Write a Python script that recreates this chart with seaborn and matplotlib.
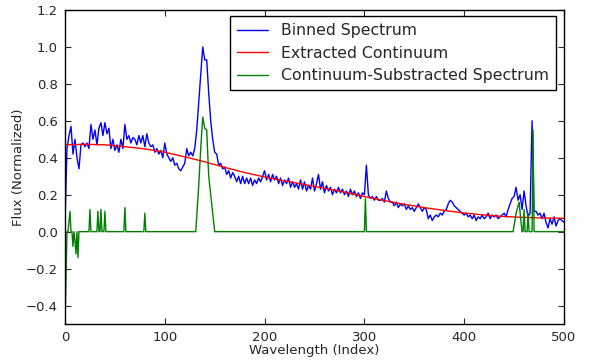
import numpy as np
import pandas as pd
import matplotlib
matplotlib.use("Agg")
import matplotlib.pyplot as plt
import seaborn as sns

# Binned spectrum, read every 2 index steps (0..500)
binned_flux = [
    0.05, 0.45, 0.52, 0.57, 0.42, 0.50, 0.40, 0.34, 0.47, 0.48,
    0.46, 0.48, 0.45, 0.58, 0.50, 0.55, 0.47, 0.56, 0.59, 0.52,
    0.59, 0.53, 0.56, 0.45, 0.50, 0.44, 0.47, 0.43, 0.50, 0.45,
    0.58, 0.50, 0.52, 0.48, 0.51, 0.50, 0.47, 0.52, 0.48, 0.52,
    0.46, 0.53, 0.48, 0.46, 0.47, 0.43, 0.45, 0.42, 0.44, 0.40,
    0.48, 0.42, 0.40, 0.38, 0.40, 0.36, 0.37, 0.34, 0.33, 0.35,
    0.37, 0.45, 0.41, 0.43, 0.41, 0.45, 0.55, 0.70, 0.85, 1.00,
    0.93, 0.93, 0.75, 0.60, 0.50, 0.43, 0.42, 0.36, 0.37, 0.34,
    0.35, 0.31, 0.33, 0.29, 0.32, 0.30, 0.27, 0.30, 0.26, 0.30,
    0.26, 0.29, 0.26, 0.29, 0.25, 0.28, 0.26, 0.29, 0.27, 0.30,
    0.33, 0.28, 0.31, 0.27, 0.31, 0.28, 0.30, 0.26, 0.29, 0.25,
    0.28, 0.26, 0.29, 0.24, 0.27, 0.24, 0.26, 0.23, 0.28, 0.23,
    0.27, 0.22, 0.25, 0.23, 0.29, 0.22, 0.26, 0.31, 0.23, 0.27,
    0.21, 0.25, 0.22, 0.24, 0.20, 0.23, 0.21, 0.24, 0.21, 0.23,
    0.20, 0.22, 0.19, 0.23, 0.20, 0.22, 0.19, 0.21, 0.18, 0.21,
    0.20, 0.36, 0.20, 0.18, 0.19, 0.17, 0.19, 0.17, 0.17, 0.18,
    0.16, 0.22, 0.18, 0.16, 0.16, 0.14, 0.16, 0.13, 0.15, 0.14,
    0.15, 0.12, 0.14, 0.12, 0.13, 0.11, 0.13, 0.15, 0.13, 0.11,
    0.13, 0.12, 0.07, 0.09, 0.06, 0.08, 0.09, 0.08, 0.10, 0.09,
    0.11, 0.12, 0.15, 0.17, 0.16, 0.14, 0.13, 0.12, 0.11, 0.10,
    0.09, 0.10, 0.08, 0.09, 0.07, 0.09, 0.06, 0.08, 0.07, 0.09,
    0.07, 0.08, 0.10, 0.07, 0.09, 0.08, 0.09, 0.07, 0.08, 0.09,
    0.10, 0.08, 0.12, 0.15, 0.18, 0.19, 0.24, 0.17, 0.20, 0.12,
    0.22, 0.14, 0.08, 0.10, 0.60, 0.11, 0.11, 0.09, 0.10, 0.07,
    0.10, 0.05, 0.02, 0.07, 0.04, 0.08, 0.03, 0.06, 0.07, 0.06,
    0.05,
]
binned_index = np.arange(0, 2 * len(binned_flux), 2)

# Extracted continuum, every 20 index steps
cont_index = [0, 20, 40, 60, 80, 100, 120, 140, 160, 180, 200, 220, 240,
              260, 280, 300, 320, 340, 360, 380, 400, 420, 440, 460, 480, 500]
cont_flux = [0.470, 0.473, 0.470, 0.460, 0.448, 0.430, 0.405, 0.378, 0.348,
             0.320, 0.296, 0.275, 0.255, 0.235, 0.214, 0.190, 0.168, 0.148,
             0.130, 0.115, 0.101, 0.090, 0.082, 0.077, 0.074, 0.072]

# Continuum-subtracted spectrum (mostly zero, with lines)
sub_index = [0, 2, 3, 5, 6, 7, 8, 9, 10, 11, 12, 13, 14,
             24, 25, 26, 32, 33, 34, 35, 36, 37, 39, 40, 41,
             59, 60, 61, 79, 80, 81,
             131, 134, 136, 138, 140, 142, 144, 146, 148, 150,
             300, 301, 302,
             449, 452, 455, 457, 458, 459, 460, 461, 463, 464, 465,
             468, 469, 470, 500]
sub_flux = [-0.50, 0.00, 0.00, 0.11, 0.00, 0.00, -0.08, 0.00, -0.05, -0.12, 0.00, -0.14, 0.00,
            0.00, 0.12, 0.00, 0.00, 0.11, 0.00, 0.00, 0.12, 0.00, 0.00, 0.11, 0.00,
            0.00, 0.13, 0.00, 0.00, 0.10, 0.00,
            0.00, 0.25, 0.45, 0.62, 0.56, 0.55, 0.30, 0.20, 0.10, 0.00,
            0.00, 0.18, 0.00,
            0.00, 0.10, 0.16, 0.05, 0.00, 0.00, 0.12, 0.00, 0.00, 0.10, 0.00,
            0.00, 0.55, 0.00, 0.00]

sns.set_style("white")
plt.rcParams.update({
    'xtick.direction': 'in', 'ytick.direction': 'in',
    'xtick.top': True, 'ytick.right': True,
    'xtick.bottom': True, 'ytick.left': True,
    'xtick.major.size': 4, 'ytick.major.size': 4,
    'axes.edgecolor': 'black', 'axes.linewidth': 1.0,
})
plt.rcParams['font.family'] = ['DejaVu Sans']

df_binned = pd.DataFrame({'index': binned_index, 'flux': binned_flux})
df_cont = pd.DataFrame({'index': cont_index, 'flux': cont_flux})
df_sub = pd.DataFrame({'index': sub_index, 'flux': sub_flux})

fig = plt.figure(figsize=(5.97, 3.6), dpi=100)
ax = fig.add_axes([65 / 597, 1 - 324 / 360, (564 - 65) / 597, (324 - 10) / 360])

sns.lineplot(data=df_binned, x='index', y='flux', ax=ax, color='#0000ff',
             linewidth=1.0, estimator=None, label='Binned Spectrum')
sns.lineplot(data=df_cont, x='index', y='flux', ax=ax, color='#ff0000',
             linewidth=1.0, estimator=None, label='Extracted Continuum')
sns.lineplot(data=df_sub, x='index', y='flux', ax=ax, color='#008000',
             linewidth=1.0, estimator=None, label='Continuum-Substracted Spectrum')

ax.set_xlim(0, 500)
ax.set_ylim(-0.5, 1.2)
ax.set_xticks(np.arange(0, 501, 100))
ax.set_yticks(np.arange(-0.4, 1.21, 0.2))
ax.set_yticklabels(['\u22120.4', '\u22120.2', '0.0', '0.2', '0.4', '0.6', '0.8', '1.0', '1.2'])
ax.tick_params(labelsize=9.5, pad=5)
ax.set_xlabel('Wavelength (Index)', fontsize=9.5, labelpad=0)
ax.set_ylabel('Flux (Normalized)', fontsize=9.5, labelpad=1)

leg = ax.legend(loc='upper right', fontsize=11.3, fancybox=False, framealpha=1,
                edgecolor='black', handlelength=2.0, borderpad=0.45,
                labelspacing=0.48, bbox_to_anchor=(0.999, 1.005))
leg.get_frame().set_linewidth(1.0)

fig.savefig('out.png', dpi=100, facecolor='white')
